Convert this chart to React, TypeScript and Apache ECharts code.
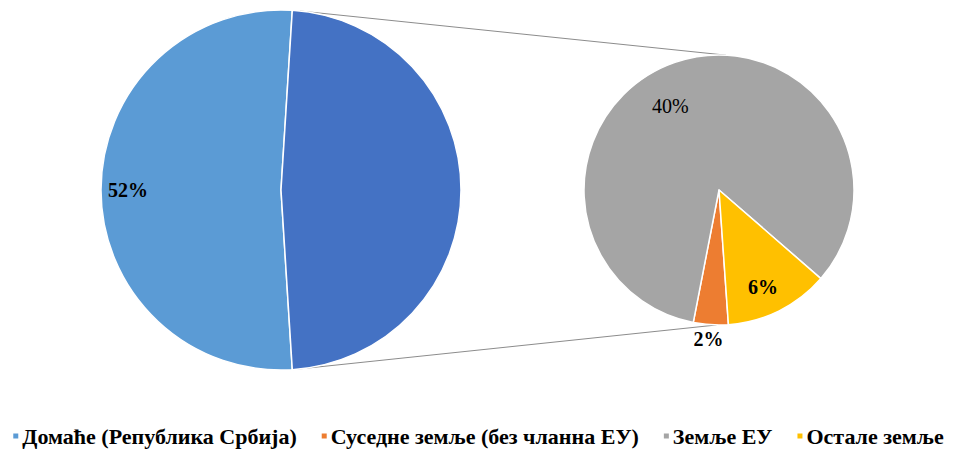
import React, { useEffect, useRef } from "react";
import * as echarts from "echarts";

const CATEGORIES = [
  "Домаће (Република Србија)",
  "Суседне земље (без чланна ЕУ)",
  "Земље ЕУ",
  "Остале земље",
];
const OTHER_NAME = "Остало";
const MAIN_VALUES = [52, 48];
const SUB_VALUES = [2, 40, 6];

const COLORS = ["#5B9BD5", "#ED7D31", "#A5A5A5", "#FFC000"];
const OTHER_COLOR = "#4472C4";

// geometry (styling)
const LEFT_C = [281, 190];
const LEFT_R = 180;
const RIGHT_C = [719, 190];
const RIGHT_R = 135;
// label polar placement: [compass angle deg, fraction of radius]
const MAIN_LABEL_POS = [[270, 0.85], [90, 0.5]];
const SUB_LABEL_POS = [[184, 1.11], [330, 0.72], [155.6, 0.79]];

const FONT = "'Liberation Serif', 'Times New Roman', serif";

function polar(c: number[], r: number, deg: number, f: number) {
  const a = (deg * Math.PI) / 180;
  return [c[0] + f * r * Math.sin(a), c[1] - f * r * Math.cos(a)];
}

export default function App() {
  const ref = useRef<HTMLDivElement>(null);
  useEffect(() => {
    if (!ref.current) return;
    const chart = echarts.init(ref.current, undefined, { renderer: "svg" });
    const mainData = [
      { name: CATEGORIES[0], value: MAIN_VALUES[0], itemStyle: { color: COLORS[0] } },
      { name: OTHER_NAME, value: MAIN_VALUES[1], itemStyle: { color: OTHER_COLOR }, label: { show: false } },
    ];
    const subData = [
      { name: CATEGORIES[1], value: SUB_VALUES[0], itemStyle: { color: COLORS[1] } },
      { name: CATEGORIES[2], value: SUB_VALUES[1], itemStyle: { color: COLORS[2] }, label: { fontWeight: "normal" } },
      { name: CATEGORIES[3], value: SUB_VALUES[2], itemStyle: { color: COLORS[3] } },
    ];
    const p1 = polar(LEFT_C, LEFT_R, 6, 1);
    const p2 = polar(RIGHT_C, RIGHT_R, 3, 1);
    const p3 = polar(LEFT_C, LEFT_R, 176, 1);
    const p4 = polar(RIGHT_C, RIGHT_R, 181, 1);
    const labelStyle = {
      show: true,
      position: "inside",
      formatter: "{c}%",
      color: "#000",
      fontFamily: FONT,
      fontWeight: "bold",
      fontSize: 20,
    };
    chart.setOption({
      animation: false,
      backgroundColor: "#fff",
      legend: {
        data: CATEGORIES,
        left: "center",
        top: 425,
        padding: 0,
        itemWidth: 7,
        itemHeight: 7,
        itemGap: 23,
        icon: "rect",
        textStyle: { fontFamily: FONT, fontWeight: "bold", fontSize: 22, color: "#000", padding: [0, 0, 0, -2] },
      },
      graphic: [
        { type: "line", z: 1, shape: { x1: p1[0], y1: p1[1], x2: p2[0], y2: p2[1] }, style: { stroke: "#8c8c8c", lineWidth: 1 } },
        { type: "line", z: 1, shape: { x1: p3[0], y1: p3[1], x2: p4[0], y2: p4[1] }, style: { stroke: "#8c8c8c", lineWidth: 1 } },
      ],
      series: [
        {
          type: "pie",
          center: LEFT_C,
          radius: LEFT_R,
          startAngle: 90 - 176.4,
          clockwise: true,
          data: mainData,
          itemStyle: { borderColor: "#fff", borderWidth: 1.5 },
          label: labelStyle,
          labelLine: { show: false },
          emphasis: { disabled: true },
          labelLayout: (params: any) => {
            const pos = MAIN_LABEL_POS[params.dataIndex];
            const p = polar(LEFT_C, LEFT_R, pos[0], pos[1]);
            return { x: p[0], y: p[1], align: "center", verticalAlign: "middle" };
          },
        },
        {
          type: "pie",
          center: RIGHT_C,
          radius: RIGHT_R,
          startAngle: 90 - 176,
          clockwise: true,
          data: subData,
          itemStyle: { borderColor: "#fff", borderWidth: 1.5 },
          label: labelStyle,
          labelLine: { show: false },
          emphasis: { disabled: true },
          labelLayout: (params: any) => {
            const pos = SUB_LABEL_POS[params.dataIndex];
            const p = polar(RIGHT_C, RIGHT_R, pos[0], pos[1]);
            return { x: p[0], y: p[1], align: "center", verticalAlign: "middle" };
          },
        },
      ],
    });
    return () => chart.dispose();
  }, []);
  return (
    <div
      ref={ref}
      style={{ position: "absolute", left: 0, top: 0, width: 955, height: 450 }}
    />
  );
}
